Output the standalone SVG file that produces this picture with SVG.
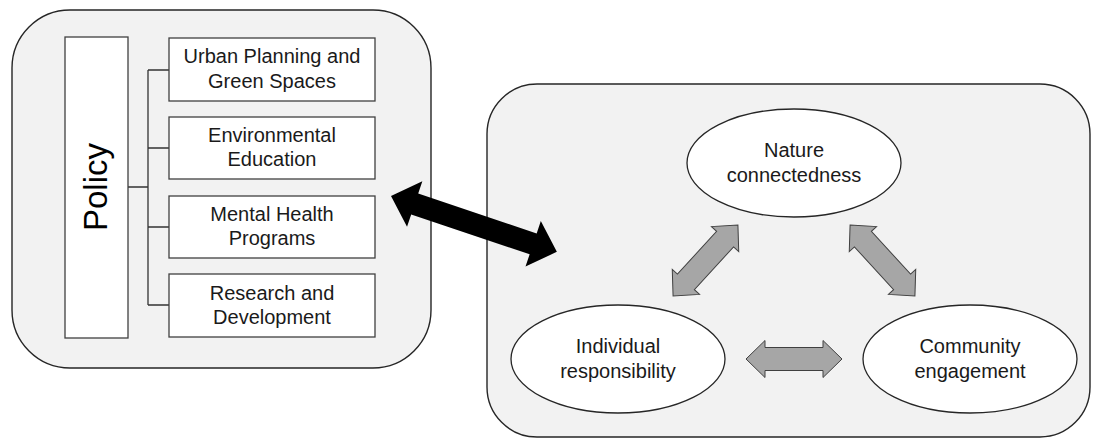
<svg xmlns="http://www.w3.org/2000/svg" width="1093" height="439" viewBox="0 0 1093 439">
  <style>
    .panel { fill: #f2f2f2; stroke: #262626; stroke-width: 1.4; }
    .box { fill: #ffffff; stroke: #404040; stroke-width: 1.3; }
    .ell { fill: #ffffff; stroke: #262626; stroke-width: 1.3; }
    .t { font-family: "Liberation Sans", Arial, sans-serif; font-size: 20px; fill: #1a1a1a; text-anchor: middle; }
    .tp { font-family: "Liberation Sans", Arial, sans-serif; font-size: 33px; fill: #000000; text-anchor: middle; }
    .tree { fill: none; stroke: #333333; stroke-width: 1.3; }
    .garrow { fill: #a6a6a6; stroke: #404040; stroke-width: 1; }
    .barrow { fill: #000000; stroke: none; }
  </style>
  <defs>
    <polygon id="gray-arrow" points="-48,0 -29,-18.5 -29,-11.5 29,-11.5 29,-18.5 48,0 29,18.5 29,11.5 -29,11.5 -29,18.5"/>
  </defs>

  <g id="policy-panel">
    <rect class="panel" x="12" y="10" width="419" height="358" rx="58" ry="58"/>
  </g>
  <g id="right-panel">
    <rect class="panel" x="487" y="84" width="603" height="353" rx="50" ry="50"/>
  </g>

  <g id="connectors">
    <path class="tree" d="M128,187 H148 M148,70 V305 M148,70 H169 M148,148 H169 M148,227 H169 M148,305 H169"/>
    <polygon class="barrow" transform="translate(391,196) rotate(18.6)" points="0,0 25,-24 25,-11 150,-11 150,-24 175,0 150,24 150,11 25,11 25,24"/>
    <use href="#gray-arrow" class="garrow" transform="translate(705.5,260.5) rotate(-47.5)"/>
    <use href="#gray-arrow" class="garrow" transform="translate(882.5,260.5) rotate(47.5)"/>
    <use href="#gray-arrow" class="garrow" transform="translate(794,359)"/>
  </g>

  <g id="policy">
    <rect class="box" x="65" y="37" width="63" height="301"/>
    <text class="tp" transform="translate(107,187) rotate(-90)">Policy</text>
  </g>

  <g id="urban-planning">
    <rect class="box" x="169" y="38" width="206" height="63"/>
    <text class="t" x="272" y="63">Urban Planning and</text>
    <text class="t" x="272" y="88">Green Spaces</text>
  </g>
  <g id="environmental-education">
    <rect class="box" x="169" y="117" width="206" height="62"/>
    <text class="t" x="272" y="142">Environmental</text>
    <text class="t" x="272" y="166">Education</text>
  </g>
  <g id="mental-health">
    <rect class="box" x="169" y="196" width="206" height="62"/>
    <text class="t" x="272" y="221">Mental Health</text>
    <text class="t" x="272" y="245">Programs</text>
  </g>
  <g id="research">
    <rect class="box" x="169" y="274" width="206" height="63"/>
    <text class="t" x="272" y="300">Research and</text>
    <text class="t" x="272" y="324">Development</text>
  </g>

  <g id="nature-connectedness">
    <ellipse class="ell" cx="794" cy="163" rx="107" ry="54"/>
    <text class="t" x="794" y="157">Nature</text>
    <text class="t" x="794" y="182">connectedness</text>
  </g>
  <g id="individual-responsibility">
    <ellipse class="ell" cx="618" cy="359" rx="107" ry="54"/>
    <text class="t" x="618" y="353">Individual</text>
    <text class="t" x="618" y="378">responsibility</text>
  </g>
  <g id="community-engagement">
    <ellipse class="ell" cx="970" cy="359" rx="107" ry="54"/>
    <text class="t" x="970" y="353">Community</text>
    <text class="t" x="970" y="378">engagement</text>
  </g>
</svg>
